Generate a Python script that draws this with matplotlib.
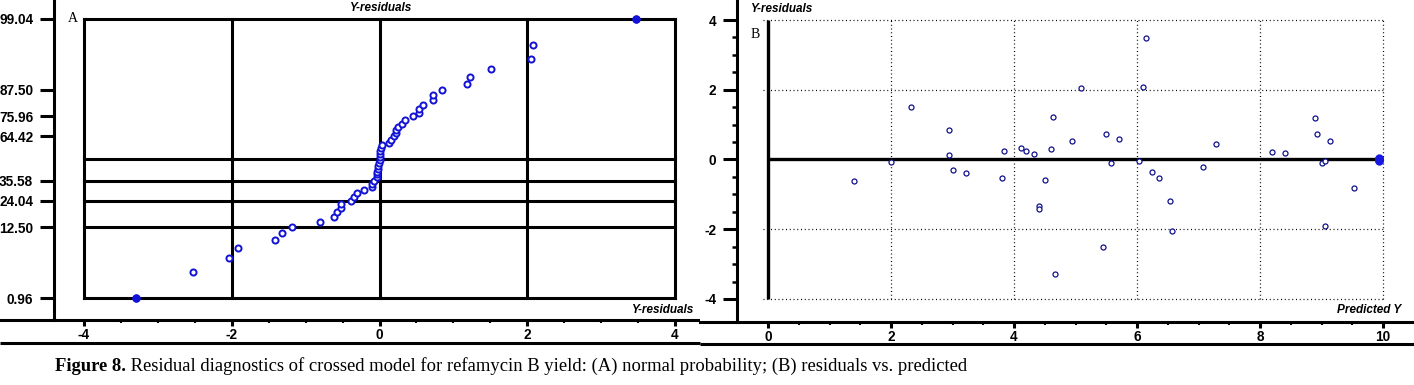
import matplotlib
matplotlib.use("Agg")
import matplotlib.pyplot as plt
import numpy as np
from statistics import NormalDist
from matplotlib.ticker import FixedLocator, FixedFormatter, NullLocator

plt.rcParams['axes.unicode_minus'] = False
plt.rcParams['font.family'] = ['Liberation Sans Narrow', 'Liberation Sans', 'DejaVu Sans']

# ---------------- data ----------------
predicted = [1.40, 2.00, 2.33, 2.94, 2.94, 3.01, 3.22, 3.84, 3.81, 4.12,
             4.20, 4.33, 4.41, 4.41, 4.51, 4.60, 4.64, 4.67, 4.95, 5.09,
             5.44, 5.49, 5.57, 5.71, 6.04, 6.09, 6.15, 6.25, 6.36, 6.53,
             6.57, 7.08, 7.29, 8.20, 8.41, 8.90, 8.92, 9.01, 9.06, 9.14,
             9.06, 9.53, 9.93, 9.93, 9.93, 9.93, 9.93, 9.93, 9.93, 9.93,
             9.93, 9.93]
residuals = [-0.61, -0.07, 1.51, 0.85, 0.13, -0.30, -0.38, 0.25, -0.52, 0.34,
             0.23, 0.16, -1.32, -1.42, -0.58, 0.31, 1.22, -3.29, 0.53, 2.05,
             -2.52, 0.73, -0.10, 0.59, -0.04, 2.08, 3.47, -0.35, -0.52, -1.18,
             -2.04, -0.21, 0.45, 0.22, 0.19, 1.19, 0.73, -0.10, -0.04, 0.53,
             -1.92, -0.81, -0.03, -0.02, -0.02, -0.01, 0.00, 0.00, 0.01, 0.01,
             0.02, 0.03]
prob_ticks = [0.96, 12.50, 24.04, 35.58, 64.42, 75.96, 87.50, 99.04]
prob_lines = [0.96, 12.50, 24.04, 35.58, 50.0, 99.04]
xticks_A = [-4, -2, 0, 2, 4]
xticks_B = [0, 2, 4, 6, 8, 10]
yticks_B = [-4, -2, 0, 2, 4]
grid_x_B = [2, 4, 6, 8, 10]
grid_y_B = [-4, -2, 2, 4]

caption_bold = "Figure 8."
caption_rest = " Residual diagnostics of crossed model for refamycin B yield: (A) normal probability; (B) residuals vs. predicted"

# ---------------- helpers ----------------
W, H = 1414, 385
nd = NormalDist()


def fwd(p):
    p = np.clip(np.asarray(p, dtype=float), 1e-9, 100 - 1e-9)
    return np.array([nd.inv_cdf(v / 100.0) for v in p.ravel()]).reshape(p.shape)


def inv(z):
    z = np.asarray(z, dtype=float)
    return np.array([nd.cdf(v) * 100.0 for v in z.ravel()]).reshape(z.shape)


BLUE_A = '#1212d6'
NAVY_B = '#10108e'
FILL_B = '#1818e0'
LW = 2.2
tick_font = dict(family=['Liberation Sans Narrow', 'Liberation Sans', 'DejaVu Sans'], weight='bold', size=9.8)
lab_font = dict(family=['Liberation Sans', 'DejaVu Sans'], weight='bold', style='italic', size=8.5)

fig = plt.figure(figsize=(W / 100, H / 100), dpi=100)

# ---------------- panel A ----------------
axA = fig.add_axes([0, 1 - 320 / H, 700 / W, 320 / H])
axA.set_yscale('function', functions=(fwd, inv))
kx = (675 - 84) / 8.0
axA.set_xlim(-4 - 84 / kx, 4 + (700 - 675) / kx)
zt, zb = float(fwd(99.04)), float(fwd(0.96))
ky = (298 - 19) / (zt - zb)
axA.set_ylim(float(inv(zb - (320 - 298) / ky)), float(inv(zt + 19 / ky)))

xs = np.sort(np.array(residuals))
n = len(xs)
pp = (np.arange(1, n + 1) - 0.5) / n * 100

axA.vlines(xticks_A, 0.96, 99.04, colors='k', lw=LW, capstyle='projecting', zorder=2)
axA.hlines(prob_lines, -4, 4, colors='k', lw=LW, capstyle='projecting', zorder=2)
axA.plot(xs, pp, 'o', mfc='white', mec=BLUE_A, ms=4.4, mew=1.4, zorder=3)
axA.plot(xs[[0, -1]], pp[[0, -1]], 'o', color=BLUE_A, ms=5, zorder=4)

for s in ['top', 'right']:
    axA.spines[s].set_visible(False)
axA.spines['left'].set_position(('data', -4 - 30 / kx))
axA.spines['left'].set_linewidth(LW)
axA.spines['bottom'].set_linewidth(LW)
axA.yaxis.set_major_locator(FixedLocator(prob_ticks))
axA.yaxis.set_major_formatter(FixedFormatter(['%.2f' % v for v in prob_ticks]))
axA.yaxis.set_minor_locator(NullLocator())
axA.xaxis.set_major_locator(FixedLocator(xticks_A))
axA.xaxis.set_minor_locator(FixedLocator(np.arange(-4, 4.01, 0.5)))
axA.tick_params(axis='y', which='major', length=10, width=LW, pad=5)
axA.tick_params(axis='x', which='major', length=4.5, width=LW, pad=1.5)
axA.tick_params(axis='x', which='minor', length=2.5, width=1.5)
for t in axA.get_xticklabels() + axA.get_yticklabels():
    t.set(**tick_font)

# ---------------- panel B ----------------
axB = fig.add_axes([700 / W, 1 - 322 / H, 714 / W, 322 / H])
kxb = (1383 - 768) / 10.0
axB.set_xlim(-(768 - 700) / kxb, 10 + (1414 - 1383) / kxb)
kyb = (299 - 20) / 8.0
axB.set_ylim(-(322 - 159.5) / kyb, 159.5 / kyb)

axB.vlines(grid_x_B, -4, 4, colors='k', lw=0.9, linestyles=(0, (0.8, 2.2)), zorder=1)
axB.hlines(grid_y_B, -0.08, 10, colors='k', lw=0.9, linestyles=(0, (0.8, 2.2)), zorder=1)
axB.vlines([0], -4, 4, colors='k', lw=2.4, zorder=2)
axB.hlines([0], 0, 10, colors='k', lw=2.4, zorder=2)

px_ = np.array(predicted)
ry_ = np.array(residuals)
overlap = np.array([np.sum((np.abs(px_ - px_[i]) < 0.04) & (np.abs(ry_ - ry_[i]) < 0.04)) > 1
                    for i in range(len(px_))])
axB.plot(px_[~overlap], ry_[~overlap], 'o', mfc='white', mec=NAVY_B, ms=3.6, mew=0.9, zorder=3)
axB.plot(px_[overlap], ry_[overlap], 'o', color=FILL_B, ms=5, zorder=4)

for s in ['top', 'right']:
    axB.spines[s].set_visible(False)
axB.spines['left'].set_position(('data', -(768 - 737) / kxb))
axB.spines['left'].set_linewidth(LW)
axB.spines['bottom'].set_linewidth(LW)
axB.xaxis.set_major_locator(FixedLocator(xticks_B))
axB.xaxis.set_minor_locator(FixedLocator(np.arange(0, 10.01, 0.5)))
axB.yaxis.set_major_locator(FixedLocator(yticks_B))
axB.yaxis.set_minor_locator(FixedLocator(np.arange(-4, 4.01, 0.5)))
axB.tick_params(axis='y', which='major', length=10, width=LW, pad=5)
axB.tick_params(axis='y', which='minor', length=3.5, width=1.8)
axB.tick_params(axis='x', which='major', length=4.5, width=LW, pad=1.5)
axB.tick_params(axis='x', which='minor', length=2.5, width=1.5)
for t in axB.get_xticklabels() + axB.get_yticklabels():
    t.set(**tick_font)

# ---------------- overlay: frames, titles, caption ----------------
axO = fig.add_axes([0, 0, 1, 1], zorder=5)
axO.set_xlim(0, W)
axO.set_ylim(H, 0)
axO.axis('off')
axO.plot([0, 700], [343, 343], color='k', lw=LW, solid_capstyle='butt')
axO.plot([700, 1414], [344, 344], color='k', lw=LW, solid_capstyle='butt')

axO.text(380, 8, 'Y-residuals', ha='center', va='center', **lab_font)
axO.text(693, 310, 'Y-residuals', ha='right', va='center', **lab_font)
axO.text(73, 19, 'A', ha='center', va='center', family='Liberation Serif', size=10)
axO.text(750, 9, 'Y-residuals', ha='left', va='center', **lab_font)
axO.text(755, 34, 'B', ha='center', va='center', family='Liberation Serif', size=10)
axO.text(1401, 310, 'Predicted Y', ha='right', va='center', **lab_font)

t1 = axO.text(55, 371, caption_bold, ha='left', va='baseline', family='Liberation Serif',
              weight='bold', size=13.4)
axO.annotate(caption_rest, xy=(1, 371), xycoords=(t1, 'data'), ha='left', va='baseline',
             family='Liberation Serif', size=13.4)

fig.savefig('out.png', dpi=100)
